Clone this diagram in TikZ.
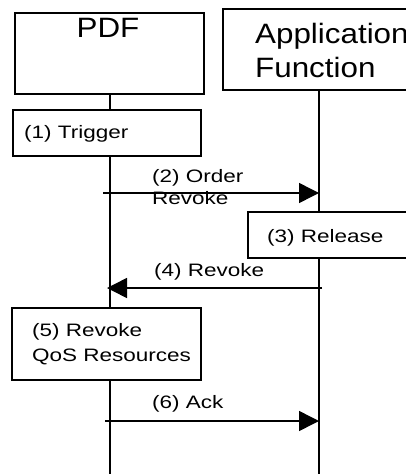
\documentclass[tikz,border=0pt]{standalone}
\usepackage{fontspec}
\setmainfont{Liberation Sans}
\newfontfamily\bigfont[FakeStretch=1.12]{Liberation Sans}
\newfontfamily\msgfont[FakeStretch=1.25]{Liberation Sans}
\usetikzlibrary{positioning,arrows.meta,backgrounds}

\tikzset{
  box/.style={draw, line width=1.5pt, fill=white, inner sep=0pt},
  life/.style={line width=1.5pt},
  msg/.style={line width=1.5pt, -{Triangle[length=20pt,width=20pt]}},
  txt/.style={anchor=base west, inner sep=0pt, align=left,
              font=\msgfont\fontsize{18}{23}\selectfont},
  bigtxt/.style={anchor=base west, inner sep=0pt, align=left,
                 font=\bigfont\fontsize{28}{34}\selectfont}
}

\begin{document}
\begin{tikzpicture}[x=1pt, y=-1pt]
  \useasboundingbox (0,0) rectangle (406,474);
  \clip (0,0) rectangle (406,474);

  % entities
  \node[box, minimum width=189pt, minimum height=81pt, anchor=north west] (pdf) at (14,12) {};
  \node[bigtxt, anchor=base] (pdfname) at (108,37) {PDF};
  \node[box, minimum width=200pt, minimum height=81pt, anchor=north west] (af) at (222,8) {};
  \node[bigtxt] (afname) at (255,77) {Application\\Function};

  \coordinate (pdfend) at (110,474);
  \coordinate (afend) at (319,474);

  % local actions
  \node[box, minimum width=188pt, minimum height=46pt, anchor=north west] (trigger) at (12,109) {};
  \node[txt] (triggertxt) at (24,138) {(1) Trigger};
  \node[box, minimum width=175pt, minimum height=46pt, anchor=north west] (release) at (247,211) {};
  \node[txt] (releasetxt) at (267,242) {(3) Release};
  \node[box, minimum width=189pt, minimum height=72pt, anchor=north west] (qos) at (11,307) {};
  \node[txt, font=\msgfont\fontsize{18}{25}\selectfont] (qostxt) at (32,361) {(5) Revoke\\QoS Resources};

  \begin{scope}[on background layer]
    \draw[life] (pdf.south -| pdfend) -- (pdfend);
    \draw[life] (af.south -| afend) -- (afend);
  \end{scope}

  % messages
  \coordinate (ordera) at (103,193);
  \coordinate (orderb) at (319,193);
  \draw[msg] (ordera) -- (orderb);
  \node[txt, font=\msgfont\fontsize{18}{22}\selectfont] (ordertxt) at (152,204) {(2) Order\\Revoke};

  \coordinate (revokea) at (322,288);
  \coordinate (revokeb) at (107,288);
  \draw[msg] (revokea) -- (revokeb);
  \node[txt] (revoketxt) at (154,276) {(4) Revoke};

  \coordinate (acka) at (105,421);
  \coordinate (ackb) at (319,421);
  \draw[msg] (acka) -- (ackb);
  \node[txt] (acktxt) at (152,408) {(6) Ack};
\end{tikzpicture}
\end{document}
